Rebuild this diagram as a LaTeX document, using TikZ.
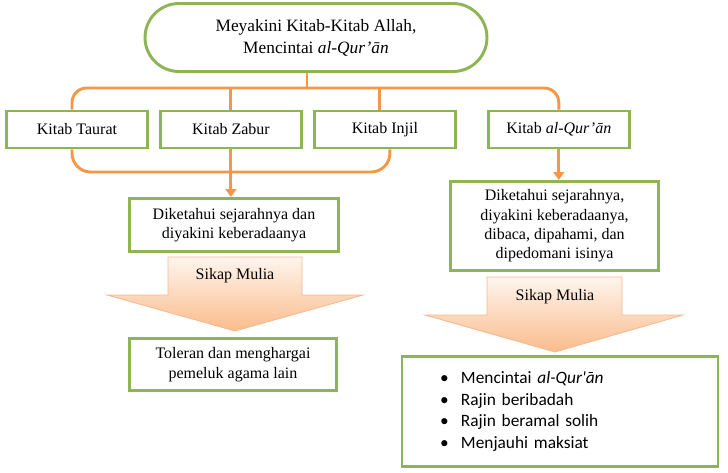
\documentclass[tikz,border=0pt]{standalone}
\usepackage{fontspec}
\setmainfont{Liberation Serif}
\newfontfamily\listfont{Carlito}
\usepackage{tikz}
\usetikzlibrary{arrows.meta,positioning}

\definecolor{kgreen}{HTML}{8EB554}
\definecolor{korange}{HTML}{F79646}
\definecolor{mtop}{HTML}{FFF5EE}
\definecolor{mbottom}{HTML}{F9BC8C}
\definecolor{mline}{HTML}{F6B88D}

\begin{document}
\begin{tikzpicture}
[x=0.75pt, y=-0.75pt, font=\fontsize{12}{14.5}\selectfont,
% STYLES
% The greenbox style is used for every green frame
greenbox/.style={rectangle, draw=kgreen, line width=2.2pt, fill=white, align=center, inner sep=2pt},
% The pill style is used for the statement on top
pill/.style={greenbox, rounded corners=25.5pt, minimum width=256.5pt, minimum height=51pt, font=\fontsize{13}{16.5}\selectfont},
% The kitab style is used for the four books
kitab/.style={greenbox, minimum width=105.75pt, minimum height=27.75pt},
% The link styles are used for the orange lines
link/.style={draw=korange, line width=2.2pt},
arrowlink/.style={link, -{Triangle[width=8pt,length=6pt]}},
% The mulia style is used for the big shaded arrows
mulia/.style={draw=mline, line width=0.6pt, top color=mtop, bottom color=mbottom}]

\useasboundingbox (0,0) rectangle (728,472);

% Draw the statement and the books
\node [pill] (yakin) at (316,37.5) {Meyakini Kitab-Kitab Allah,\\Mencintai \textit{al-Qur’ān}};
\node [kitab] (taurat) at (77,129.5) {Kitab Taurat};
\node [kitab, right=7.5pt of taurat] (zabur) {Kitab Zabur};
\node [kitab, right=7.5pt of zabur] (injil) {Kitab Injil};
\node [kitab, right=22.5pt of injil] (quran) {Kitab \textit{al-Qur’ān}};

%%%%%%%%%%%%%%%
% Sikap Mulia arrows
\path[mulia] (168,257) -- (302,257) -- (302,295) -- (363,295) -- (235,331) -- (107,295) -- (168,295) -- cycle;
\path[mulia] (487,277) -- (622,277) -- (622,315) -- (683,315) -- (555,352) -- (425,315) -- (487,315) -- cycle;
\node (mulia-kiri) at (235,276) {Sikap Mulia};
\node (mulia-kanan) at (555,297) {Sikap Mulia};

% left column
\node [greenbox, minimum width=156.75pt, minimum height=39.75pt] (sejarah) at (234,225) {Diketahui sejarahnya dan\\diyakini keberadaanya};
\node [greenbox, minimum width=155.25pt, minimum height=39pt] (toleran) at (233,364.5) {Toleran dan menghargai\\pemeluk agama lain};

% right column
\node [greenbox, minimum width=156pt, minimum height=66.75pt] (pedoman) at (554.5,226) {Diketahui sejarahnya,\\diyakini keberadaanya,\\dibaca, dipahami, dan\\dipedomani isinya};
\node [greenbox, text width=180pt, inner xsep=28.5pt, minimum height=82.5pt, align=left, font=\listfont\fontsize{13}{16.3}\selectfont] (sikap) at (560,411.5)
{\makebox[15.75pt][l]{•}Mencintai \textit{al-Qur'ān}\\
\makebox[15.75pt][l]{•}Rajin beribadah\\
\makebox[15.75pt][l]{•}Rajin beramal solih\\
\makebox[15.75pt][l]{•}Menjauhi maksiat};
%%%%%%%%%%%%%%%

% Draw the links
\coordinate (hub) at (307,88);
\coordinate (joint) at (232,172);
\draw[link] (yakin.south -| hub) -- (hub);
\draw[link, rounded corners=11pt] ([xshift=-3.75pt]taurat.north) |- (hub) -| (quran.north);
\draw[link] (zabur.north) -- (zabur.north |- hub);
\draw[link] ([xshift=-3.75pt]injil.north) -- ([xshift=-3.75pt]injil.north |- hub);
\draw[link, rounded corners=14pt] ([xshift=-3.75pt]taurat.south) |- (joint) -| ([xshift=3.75pt]injil.south);
\draw[arrowlink] (zabur.south) -- (zabur.south |- sejarah.north);
\draw[arrowlink] (quran.south) -- (quran.south |- pedoman.north);

\end{tikzpicture}
\end{document}
